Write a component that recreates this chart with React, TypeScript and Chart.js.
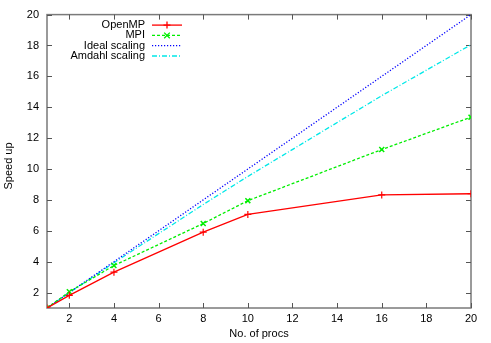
import React, { useEffect, useRef } from "react";
import { Chart, registerables } from "chart.js";

Chart.register(...registerables);

const procs = [1, 2, 4, 8, 10, 16, 20];
const openmp = [1, 1.82, 3.32, 5.91, 7.06, 8.32, 8.4];
const mpi = [1, 2.05, 3.75, 6.47, 7.95, 11.26, 13.36];
const ideal = [1, 2, 4, 8, 10, 16, 20];
const amdahl = [1, 1.99, 3.93, 7.7, 9.52, 14.75, 18.05];

const xTicks = [2, 4, 6, 8, 10, 12, 14, 16, 18, 20];
const yTicks = [2, 4, 6, 8, 10, 12, 14, 16, 18, 20];

const seriesNames = ["OpenMP", "MPI", "Ideal scaling", "Amdahl scaling"];
const xTitle = "No. of procs";
const yTitle = "Speed up";

const FONT = "'Liberation Sans', Arial, Helvetica, sans-serif";

const toPts = (ys: number[]) => procs.map((x, i) => ({ x, y: ys[i] }));

const framePlugin = {
  id: "gnuFrame",
  beforeDatasetsDraw(chart: any) {
    const { ctx, chartArea: a, scales } = chart;
    const xs = scales.x;
    const ys = scales.y;
    ctx.save();
    ctx.strokeStyle = "#7a7a7a";
    ctx.lineWidth = 1.5;
    ctx.strokeRect(a.left, a.top, a.right - a.left, a.bottom - a.top);
    ctx.lineWidth = 1;
    ctx.strokeStyle = "#555";
    ctx.beginPath();
    for (const v of xTicks) {
      const px = Math.round(xs.getPixelForValue(v)) + 0.5;
      ctx.moveTo(px, a.bottom);
      ctx.lineTo(px, a.bottom - 5);
      ctx.moveTo(px, a.top);
      ctx.lineTo(px, a.top + 5);
    }
    for (const v of yTicks) {
      const py = Math.round(ys.getPixelForValue(v)) + 0.5;
      ctx.moveTo(a.left, py);
      ctx.lineTo(a.left + 5, py);
      ctx.moveTo(a.right, py);
      ctx.lineTo(a.right - 5, py);
    }
    ctx.stroke();
    // axis titles
    ctx.fillStyle = "#000";
    ctx.font = `11px ${FONT}`;
    ctx.textAlign = "center";
    ctx.textBaseline = "middle";
    ctx.fillText(xTitle, (a.left + a.right) / 2, 334);
    ctx.translate(9, 166);
    ctx.rotate(-Math.PI / 2);
    ctx.fillText(yTitle, 0, 0);
    ctx.restore();
  },
  afterDatasetsDraw(chart: any) {
    const { ctx, chartArea: a } = chart;
    ctx.save();
    ctx.font = `11px ${FONT}`;
    ctx.textAlign = "right";
    ctx.textBaseline = "middle";
    chart.data.datasets.forEach((ds: any, i: number) => {
      const y = a.top + 10.5 + i * 10.3;
      ctx.fillStyle = "#000";
      ctx.fillText(seriesNames[i], a.left + 98, y);
      ctx.strokeStyle = ds.borderColor;
      ctx.lineWidth = ds.borderWidth;
      ctx.setLineDash(ds.borderDash || []);
      ctx.beginPath();
      ctx.moveTo(a.left + 105, y);
      ctx.lineTo(a.left + 135, y);
      ctx.stroke();
      ctx.setLineDash([]);
      const cx = a.left + 120;
      const r = 3.5;
      if (ds.pointStyle === "cross") {
        ctx.beginPath();
        ctx.moveTo(cx - r, y);
        ctx.lineTo(cx + r, y);
        ctx.moveTo(cx, y - r);
        ctx.lineTo(cx, y + r);
        ctx.stroke();
      } else if (ds.pointStyle === "crossRot") {
        const d = r * 0.8;
        ctx.beginPath();
        ctx.moveTo(cx - d, y - d);
        ctx.lineTo(cx + d, y + d);
        ctx.moveTo(cx - d, y + d);
        ctx.lineTo(cx + d, y - d);
        ctx.stroke();
      }
    });
    ctx.restore();
  },
};

export default function App() {
  const ref = useRef<HTMLCanvasElement | null>(null);
  useEffect(() => {
    if (!ref.current) return;
    const tickFont = { family: FONT, size: 11 };
    const chart = new Chart(ref.current, {
      type: "line",
      data: {
        datasets: [
          {
            label: seriesNames[0],
            data: toPts(openmp),
            borderColor: "#ff0000",
            backgroundColor: "#ff0000",
            borderWidth: 1.3,
            pointStyle: "cross",
            pointRadius: 3.5,
            pointBorderWidth: 1.2,
            fill: false,
          },
          {
            label: seriesNames[1],
            data: toPts(mpi),
            borderColor: "#00ee00",
            backgroundColor: "#00ee00",
            borderWidth: 1.3,
            borderDash: [3, 2],
            pointStyle: "crossRot",
            pointRadius: 3.5,
            pointBorderWidth: 1.5,
            fill: false,
          },
          {
            label: seriesNames[2],
            data: toPts(ideal),
            borderColor: "#0000ff",
            backgroundColor: "#0000ff",
            borderWidth: 1.3,
            borderDash: [1.2, 1.8],
            pointRadius: 0,
            fill: false,
          },
          {
            label: seriesNames[3],
            data: toPts(amdahl),
            borderColor: "#00e8e8",
            backgroundColor: "#00e8e8",
            borderWidth: 1.3,
            borderDash: [5, 2, 1, 2],
            pointRadius: 0,
            fill: false,
          },
        ],
      },
      options: {
        responsive: false,
        animation: false,
        events: [],
        layout: { padding: { left: 0, right: 20, top: 13, bottom: 0 } },
        plugins: {
          legend: { display: false },
          tooltip: { enabled: false },
          title: { display: false },
        },
        elements: { line: { tension: 0 } },
        scales: {
          x: {
            type: "linear",
            min: 1,
            max: 20,
            afterBuildTicks: (s: any) => {
              s.ticks = xTicks.map((v) => ({ value: v }));
            },
            afterFit: (s: any) => {
              s.height = 35;
            },
            grid: { display: false, drawTicks: false },
            border: { display: false },
            ticks: { font: tickFont, color: "#000", padding: 4, maxRotation: 0, autoSkip: false },
          },
          y: {
            type: "linear",
            min: 1,
            max: 20,
            afterBuildTicks: (s: any) => {
              s.ticks = yTicks.map((v) => ({ value: v }));
            },
            afterFit: (s: any) => {
              s.width = 47;
            },
            grid: { display: false, drawTicks: false },
            border: { display: false },
            ticks: { font: tickFont, color: "#000", padding: 8, autoSkip: false },
          },
        },
      },
      plugins: [framePlugin],
    } as any);
    return () => chart.destroy();
  }, []);
  return (
    <div style={{ position: "fixed", left: 0, top: 0, width: 491, height: 343, background: "#fff" }}>
      <canvas ref={ref} width={491} height={343} style={{ display: "block" }} />
    </div>
  );
}
